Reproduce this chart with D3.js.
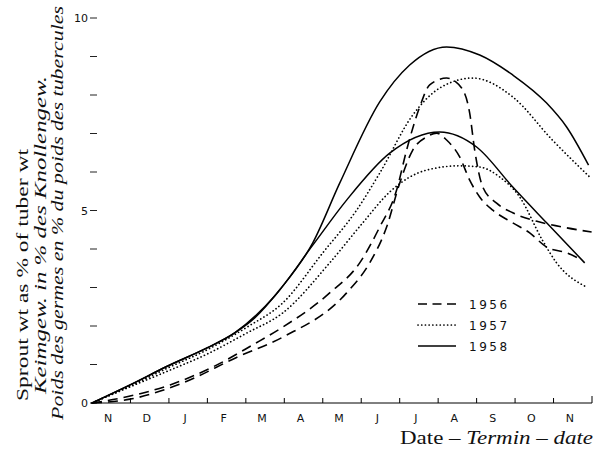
<!DOCTYPE html>
<html><head><meta charset="utf-8">
<script src="https://cdn.jsdelivr.net/npm/d3@7"></script>
<style>
html,body{margin:0;padding:0;background:#fff;}
svg{display:block;}
</style></head>
<body>
<script>
// Month axis: index 0 = start of Nov, 13 = end of following Nov
const monthLabels = ["N","D","J","F","M","A","M","J","J","A","S","O","N"];
const yTickValues = [0,1,2,3,4,5,6,7,8,9,10];
const yTickLabels = {0:"0",5:"5",10:"10"};

// Series as [month index, sprout wt %]
const s1956a = [[0,0],[0.99,0.18],[2.03,0.47],[3.25,0.99],[4.18,1.51],[4.96,1.97],[6.18,2.86],[6.96,3.64],[7.48,4.57],[7.92,5.53],[8.18,6.57],[8.52,7.69],[8.78,8.26],[9.22,8.44],[9.61,8.18],[9.82,7.53],[9.95,6.57],[10.16,5.61],[10.52,5.19],[10.94,4.94],[11.64,4.70],[12.34,4.55],[12.99,4.44]];
const s1956b = [[0,0],[0.99,0.10],[2.36,0.52],[3.77,1.19],[4.96,1.71],[6.62,2.86],[7.22,3.64],[7.66,4.57],[8.0,5.71],[8.34,6.57],[8.7,6.91],[8.96,7.01],[9.22,6.83],[9.56,6.39],[9.82,5.79],[10.08,5.35],[10.42,5.01],[10.94,4.68],[11.38,4.42],[11.82,4.05],[12.34,3.90],[12.75,3.71]];
const s1957a = [[0,0],[0.99,0.44],[1.97,0.91],[2.99,1.38],[4.03,1.97],[4.96,2.60],[6.0,3.90],[6.88,5.01],[7.48,5.97],[8.34,7.48],[9.04,8.18],[9.9,8.44],[10.94,7.95],[11.97,6.83],[12.94,5.87]];
const s1957b = [[0,0],[0.99,0.42],[1.97,0.83],[2.99,1.27],[4.03,1.82],[4.96,2.34],[6.18,3.64],[7.04,4.68],[7.74,5.48],[8.7,6.05],[9.56,6.16],[10.08,6.13],[10.6,5.87],[11.12,5.35],[11.71,4.23],[12.08,3.64],[12.86,3.01]];
const s1958a = [[0,0],[0.99,0.47],[1.97,0.96],[2.99,1.43],[3.71,1.82],[4.23,2.21],[4.88,2.94],[5.74,4.16],[6.44,5.71],[7.48,7.82],[8.26,8.78],[9.22,9.25],[10.08,9.04],[10.94,8.52],[11.82,7.79],[12.34,7.17],[12.91,6.18]];
const s1958b = [[0,0],[0.99,0.47],[1.97,0.96],[2.99,1.43],[3.71,1.82],[4.75,2.78],[5.74,4.10],[6.62,5.27],[7.74,6.49],[9.04,7.04],[10.0,6.65],[10.94,5.61],[11.82,4.68],[12.81,3.64]];

const legendYears = ["1956","1957","1958"];

const W=595,H=451;
const svg=d3.select("body").append("svg").attr("width",W).attr("height",H);
const x=d3.scaleLinear().domain([0,13]).range([92,592]);
const y=d3.scaleLinear().domain([0,10]).range([403,18]);

const styles = {
  "1956":{dash:"10,6",cap:"butt",w:1.6},
  "1957":{dash:"0.1,3.6",cap:"round",w:1.7},
  "1958":{dash:null,cap:"butt",w:1.5}
};

// x axis baseline and ticks (upward)
svg.append("line").attr("x1",x(0)).attr("x2",x(13)).attr("y1",y(0)).attr("y2",y(0)).attr("stroke","#000").attr("stroke-width",1);
d3.range(1,14).forEach(i=>{
  svg.append("line").attr("x1",x(i)).attr("x2",x(i)).attr("y1",y(0)).attr("y2",y(0)-(i===13?7:5)).attr("stroke","#000").attr("stroke-width",1);
});
monthLabels.forEach((m,i)=>{
  svg.append("text").attr("x",x(i+0.5)-3).attr("y",y(0)+19).attr("text-anchor","middle")
    .attr("font-family","DejaVu Sans, sans-serif").attr("font-size",11).attr("fill","#111").text(m);
});

// y ticks
yTickValues.forEach(v=>{
  svg.append("line").attr("x1",90).attr("x2",97).attr("y1",y(v)).attr("y2",y(v)).attr("stroke","#222").attr("stroke-width",1);
  if(yTickLabels[v]!==undefined){
    svg.append("text").attr("x",88).attr("y",y(v)+4).attr("text-anchor","end")
      .attr("font-family","DejaVu Sans, sans-serif").attr("font-size",11).attr("fill","#111").text(yTickLabels[v]);
  }
});

// curves
const line=d3.line().x(d=>x(d[0])).y(d=>y(d[1])).curve(d3.curveMonotoneX);
[[s1956a,"1956"],[s1956b,"1956"],[s1957a,"1957"],[s1957b,"1957"],[s1958a,"1958"],[s1958b,"1958"]].forEach(([s,k])=>{
  const st=styles[k];
  const p=svg.append("path").attr("d",line(s)).attr("fill","none").attr("stroke","#000")
    .attr("stroke-width",st.w).attr("stroke-linecap",st.cap);
  if(st.dash) p.attr("stroke-dasharray",st.dash);
});

// legend
legendYears.forEach((yr,i)=>{
  const ly=304+i*21, st=styles[yr];
  const l=svg.append("line").attr("x1",418).attr("x2",456).attr("y1",ly).attr("y2",ly)
    .attr("stroke","#000").attr("stroke-width",st.w).attr("stroke-linecap",st.cap);
  if(st.dash) l.attr("stroke-dasharray",yr==="1956"?"9,5.5":st.dash);
  svg.append("text").attr("x",469).attr("y",ly+4.5).attr("font-family","DejaVu Sans, sans-serif")
    .attr("font-size",12).attr("letter-spacing",2.5).attr("fill","#111").text(yr);
});

// x axis title
const xt=svg.append("text").attr("x",400).attr("y",444)
  .attr("textLength",193).attr("lengthAdjust","spacingAndGlyphs")
  .attr("font-family","Liberation Serif, serif").attr("font-size",18).attr("fill","#111");
xt.append("tspan").text("Date – ");
xt.append("tspan").attr("font-style","italic").text("Termin");
xt.append("tspan").text(" – ");
xt.append("tspan").attr("font-style","italic").text("date");

// y axis titles
function ylab(tx, cx, ystart, len, italic){
  svg.append("text").attr("transform",`translate(${cx},${ystart}) rotate(-90)`)
    .attr("font-family","Liberation Serif, serif").attr("font-size",17)
    .attr("textLength",len).attr("lengthAdjust","spacingAndGlyphs")
    .attr("font-style",italic?"italic":"normal").attr("fill","#111").text(tx);
}
ylab("Sprout wt as % of tuber wt",28,401,252,false);
ylab("Keimgew. in % des Knollengew.",46,394,318,true);
ylab("Poids des germes en % du poids des tubercules",63,420,414,true);
</script>
</body></html>
